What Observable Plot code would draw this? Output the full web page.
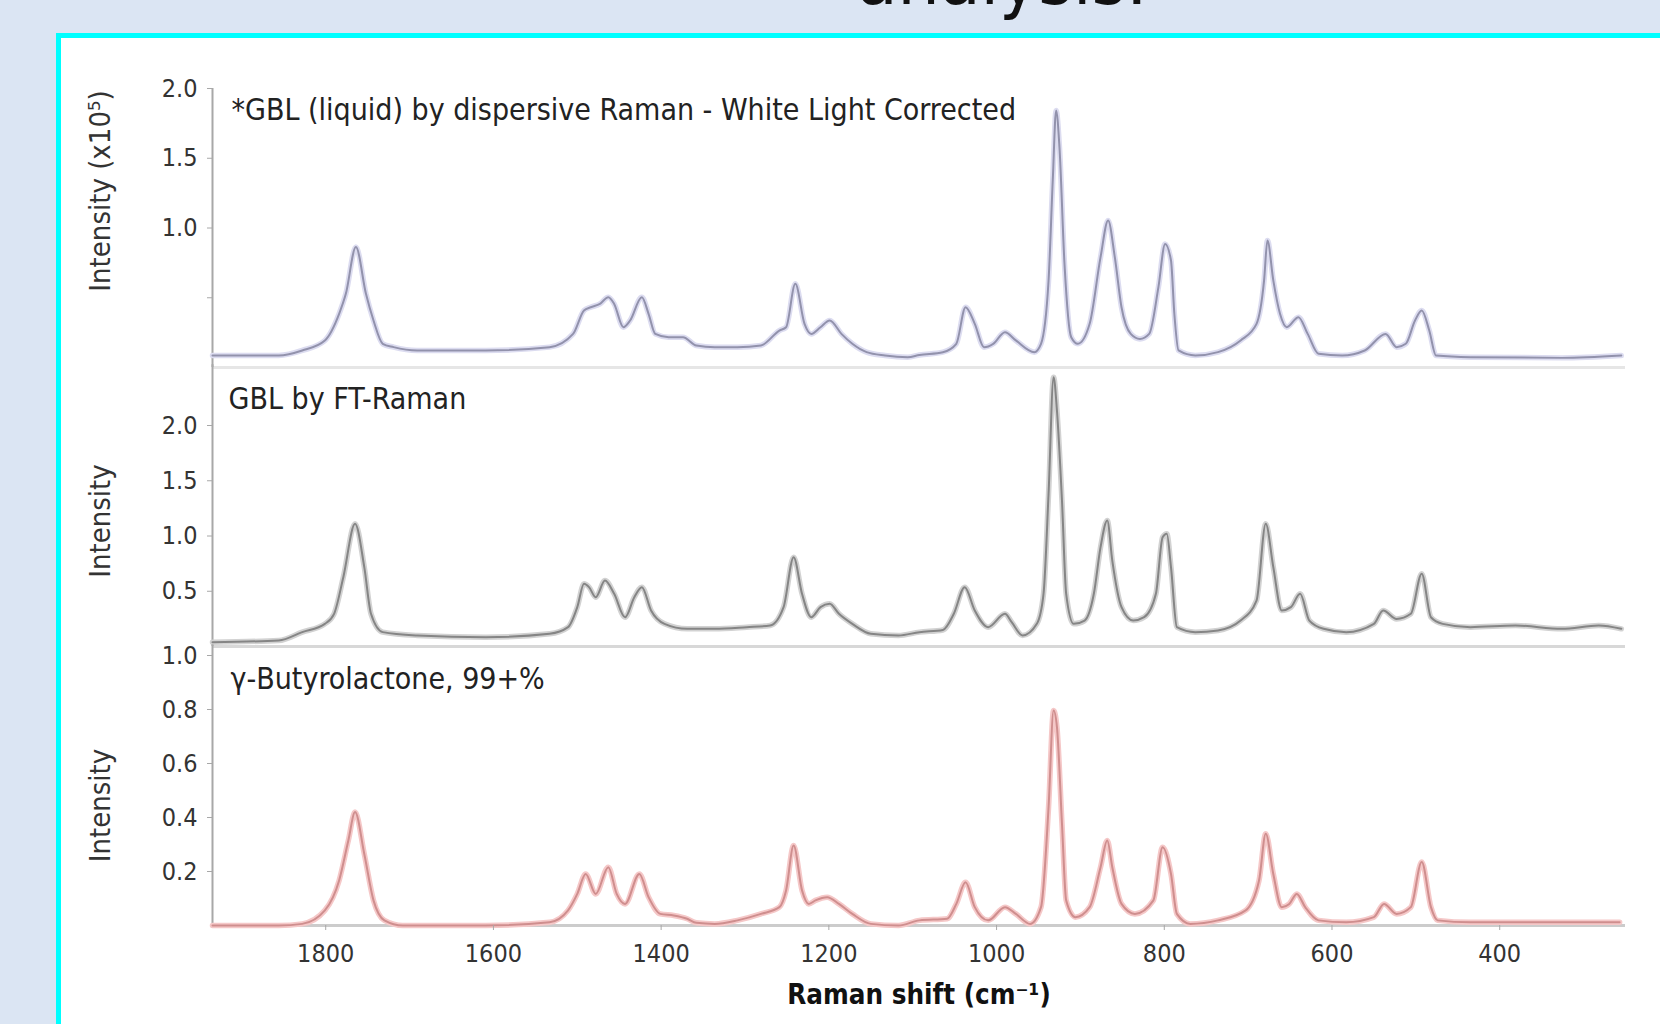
<!DOCTYPE html>
<html>
<head>
<meta charset="utf-8">
<script src="https://cdn.jsdelivr.net/npm/d3@7"></script>
<script src="https://cdn.jsdelivr.net/npm/@observablehq/plot@0.6"></script>
<style>
  html, body { margin: 0; padding: 0; width: 1660px; height: 1024px; overflow: hidden; background: #dbe5f3; }
  #title { position: absolute; left: 502px; top: -59px; width: 1000px; text-align: center;
           font-family: "DejaVu Sans Condensed", "Liberation Sans Narrow", "DejaVu Sans", sans-serif;
           font-size: 74px; line-height: 74px; color: #111; white-space: nowrap; }
  #box { position: absolute; left: 56px; top: 33px; width: 1700px; height: 1100px;
         border: 5px solid #00ffff; background: #ffffff; box-sizing: border-box; }
  #chart { position: absolute; left: 0; top: 0; width: 1660px; height: 1024px; }
  #chart svg { position: absolute; left: 0; top: 0; }
</style>
</head>
<body>
<div id="title">analysis.</div>
<div id="box"></div>
<div id="chart"></div>
<script>
// ---- data ----
const xDomain = [1935, 250];
const xTicks = [1800, 1600, 1400, 1200, 1000, 800, 600, 400];

const dispersiveShift = [1935, 1856, 1828, 1801, 1784, 1776, 1764, 1752, 1743, 1732, 1719, 1691, 1609, 1533, 1505, 1492, 1484, 1473, 1463, 1456, 1445, 1437, 1423, 1415, 1407, 1391, 1374, 1358, 1336, 1309, 1281, 1259, 1251, 1240, 1229, 1221, 1210, 1199, 1185, 1172, 1155, 1133, 1106, 1092, 1064, 1048, 1037, 1026, 1015, 1004, 990, 977, 955, 947, 938, 933, 929, 925, 919, 911, 903, 889, 876, 867, 859, 851, 840, 829, 818, 807, 799, 792, 788, 783, 763, 736, 709, 690, 681, 677, 670, 662, 654, 640, 629, 616, 588, 561, 536, 523, 512, 501, 493, 484, 476, 435, 326, 255];
const dispersiveIntensity = [0.086, 0.086, 0.122, 0.194, 0.385, 0.528, 0.863, 0.528, 0.337, 0.17, 0.146, 0.122, 0.122, 0.146, 0.241, 0.409, 0.432, 0.456, 0.504, 0.456, 0.289, 0.337, 0.504, 0.385, 0.241, 0.217, 0.217, 0.158, 0.146, 0.146, 0.158, 0.265, 0.289, 0.6, 0.313, 0.241, 0.289, 0.337, 0.241, 0.17, 0.11, 0.086, 0.074, 0.09, 0.11, 0.17, 0.432, 0.313, 0.146, 0.17, 0.253, 0.194, 0.11, 0.17, 0.624, 1.34, 1.842, 1.579, 0.743, 0.217, 0.17, 0.313, 0.791, 1.054, 0.791, 0.432, 0.241, 0.205, 0.241, 0.576, 0.886, 0.767, 0.385, 0.122, 0.086, 0.11, 0.194, 0.313, 0.624, 0.91, 0.624, 0.385, 0.289, 0.361, 0.241, 0.098, 0.086, 0.122, 0.241, 0.146, 0.17, 0.337, 0.409, 0.265, 0.086, 0.074, 0.069, 0.086];

const ftShift = [1935, 1856, 1828, 1801, 1790, 1779, 1765, 1754, 1746, 1732, 1691, 1609, 1533, 1511, 1500, 1492, 1486, 1478, 1467, 1456, 1443, 1432, 1423, 1412, 1396, 1369, 1336, 1298, 1270, 1254, 1242, 1232, 1221, 1210, 1199, 1188, 1172, 1150, 1117, 1092, 1064, 1051, 1038, 1026, 1010, 990, 982, 969, 952, 944, 938, 932, 928, 922, 917, 908, 895, 884, 876, 868, 862, 851, 837, 824, 810, 802, 797, 792, 785, 763, 736, 709, 690, 679, 670, 660, 649, 638, 627, 610, 583, 550, 539, 523, 506, 493, 482, 468, 435, 381, 326, 282, 255];
const ftIntensity = [0.039, 0.054, 0.13, 0.205, 0.296, 0.627, 1.11, 0.718, 0.296, 0.13, 0.1, 0.084, 0.115, 0.175, 0.356, 0.567, 0.537, 0.446, 0.597, 0.477, 0.265, 0.446, 0.537, 0.326, 0.205, 0.16, 0.16, 0.175, 0.19, 0.356, 0.808, 0.477, 0.265, 0.356, 0.386, 0.296, 0.205, 0.115, 0.1, 0.13, 0.15, 0.296, 0.537, 0.326, 0.175, 0.296, 0.22, 0.1, 0.205, 0.477, 1.382, 2.437, 2.136, 1.321, 0.477, 0.205, 0.235, 0.477, 0.899, 1.14, 0.778, 0.356, 0.235, 0.265, 0.477, 0.989, 1.02, 0.718, 0.175, 0.13, 0.145, 0.235, 0.416, 1.11, 0.718, 0.326, 0.356, 0.477, 0.235, 0.16, 0.13, 0.205, 0.326, 0.25, 0.296, 0.658, 0.265, 0.205, 0.175, 0.19, 0.16, 0.19, 0.16];

const gblShift = [1935, 1856, 1828, 1801, 1784, 1773, 1765, 1754, 1743, 1730, 1708, 1609, 1533, 1511, 1500, 1490, 1478, 1463, 1453, 1443, 1426, 1415, 1401, 1385, 1369, 1358, 1336, 1309, 1281, 1259, 1251, 1242, 1232, 1224, 1216, 1202, 1188, 1172, 1150, 1117, 1092, 1059, 1048, 1037, 1026, 1010, 990, 977, 960, 947, 938, 932, 928, 922, 917, 906, 889, 876, 868, 862, 851, 835, 813, 802, 792, 785, 769, 736, 703, 687, 679, 670, 660, 651, 642, 632, 616, 583, 550, 538, 523, 506, 493, 482, 474, 435, 326, 257];
const gblIntensity = [0.0, 0.0, 0.006, 0.056, 0.167, 0.315, 0.42, 0.265, 0.093, 0.019, 0.0, 0.0, 0.012, 0.056, 0.117, 0.191, 0.117, 0.216, 0.117, 0.08, 0.191, 0.105, 0.043, 0.037, 0.025, 0.01, 0.006, 0.019, 0.043, 0.068, 0.13, 0.296, 0.13, 0.08, 0.093, 0.105, 0.08, 0.043, 0.006, 0.0, 0.019, 0.025, 0.08, 0.16, 0.068, 0.019, 0.068, 0.043, 0.006, 0.068, 0.438, 0.796, 0.735, 0.377, 0.093, 0.031, 0.068, 0.216, 0.315, 0.216, 0.08, 0.043, 0.093, 0.29, 0.191, 0.043, 0.006, 0.019, 0.056, 0.167, 0.34, 0.191, 0.068, 0.08, 0.117, 0.068, 0.019, 0.012, 0.031, 0.08, 0.043, 0.068, 0.235, 0.068, 0.019, 0.012, 0.012, 0.012];

const panelTitles = ["*GBL (liquid) by dispersive Raman - White Light Corrected", "GBL by FT-Raman", "γ-Butyrolactone, 99+%"];
const yLabels = ["Intensity (x10⁵)", "Intensity", "Intensity"];
const xLabel = "Raman shift (cm⁻¹)";

const ticks1 = [0.5, 1.0, 1.5, 2.0];
const ticks2 = [0.5, 1.0, 1.5, 2.0];
const ticks3 = [0.2, 0.4, 0.6, 0.8, 1.0];

// ---- drawing ----
const FONT = '"DejaVu Sans Condensed", "Liberation Sans Narrow", "DejaVu Sans", sans-serif';
const W = 1660, H = 1024;

function toRows(xs, ys) { return xs.map((x, i) => ({shift: x, intensity: ys[i]})); }

function panel(o) {
  const rows = toRows(o.shift, o.intensity);
  const marks = [
    Plot.ruleY([0], {stroke: o.base, strokeWidth: 3}),
    Plot.ruleX([xDomain[0]], {y1: o.yDomain[0], y2: o.axisTop, stroke: "#a8a8a8", strokeWidth: 2}),
    Plot.axisY({ticks: o.ticks, tickFormat: o.fmt, tickSize: 5, tickPadding: 10, fontSize: 25,
                fill: "#333", stroke: "#a8a8a8", label: null, fontFamily: FONT}),
    Plot.line(rows, {x: "shift", y: "intensity", stroke: o.halo, strokeWidth: 5.5, curve: "monotone-x"}),
    Plot.line(rows, {x: "shift", y: "intensity", stroke: o.core, strokeWidth: 2, curve: "monotone-x"}),
    Plot.text([o.title], {text: d => d, frameAnchor: "top-left", textAnchor: "start", lineAnchor: "middle",
                          dx: o.tdx, dy: o.tdy, fontSize: 30, fill: "#222", fontFamily: FONT}),
    Plot.text([o.ylabel], {text: d => d, frameAnchor: "left", rotate: -90, textAnchor: "middle", lineAnchor: "middle",
                           dx: -112, dy: o.ldy, fontSize: 29, fill: "#333", fontFamily: FONT})
  ];
  if (o.xAxis) {
    marks.push(Plot.axisX({ticks: xTicks, tickFormat: d => String(d), tickSize: 5, tickPadding: 14, fontSize: 25,
                           fill: "#333", stroke: "#a8a8a8", label: null, fontFamily: FONT}));
    marks.push(Plot.text([xLabel], {text: d => d, frameAnchor: "bottom", lineAnchor: "middle", dy: 70,
                                    fontSize: 27.5, fontWeight: "bold", fill: "#111", fontFamily: FONT}));
  }
  return Plot.plot({
    width: W, height: H,
    marginLeft: 212, marginRight: 35, marginTop: o.top, marginBottom: H - o.bottom,
    x: {domain: xDomain, axis: null},
    y: {domain: o.yDomain, axis: null},
    style: {background: "transparent", overflow: "visible", fontFamily: FONT},
    marks
  });
}

const chart = document.getElementById("chart");
chart.append(panel({
  shift: dispersiveShift, intensity: dispersiveIntensity, yDomain: [0, 2], top: 88, bottom: 367,
  ticks: ticks1, fmt: d => d === 0.5 ? "" : d.toFixed(1), axisTop: 2.0,
  halo: "#dcdcf0", core: "#9292ac", base: "#e6e6e6",
  title: panelTitles[0], tdx: 19, tdy: 22, ylabel: yLabels[0], ldy: -37
}));
chart.append(panel({
  shift: ftShift, intensity: ftIntensity, yDomain: [0, 2], top: 425, bottom: 646,
  ticks: ticks2, fmt: d => d.toFixed(1), axisTop: 2.55,
  halo: "#d2d2d2", core: "#858585", base: "#d8d8d8",
  title: panelTitles[1], tdx: 16, tdy: -26, ylabel: yLabels[1], ldy: -15
}));
chart.append(panel({
  shift: gblShift, intensity: gblIntensity, yDomain: [0, 1], top: 655, bottom: 925,
  ticks: ticks3, fmt: d => d.toFixed(1), axisTop: 1.04,
  halo: "#f5c8c8", core: "#cf8e8e", base: "#cccccc",
  title: panelTitles[2], tdx: 18, tdy: 24, ylabel: yLabels[2], ldy: 15, xAxis: true
}));
</script>
</body>
</html>
